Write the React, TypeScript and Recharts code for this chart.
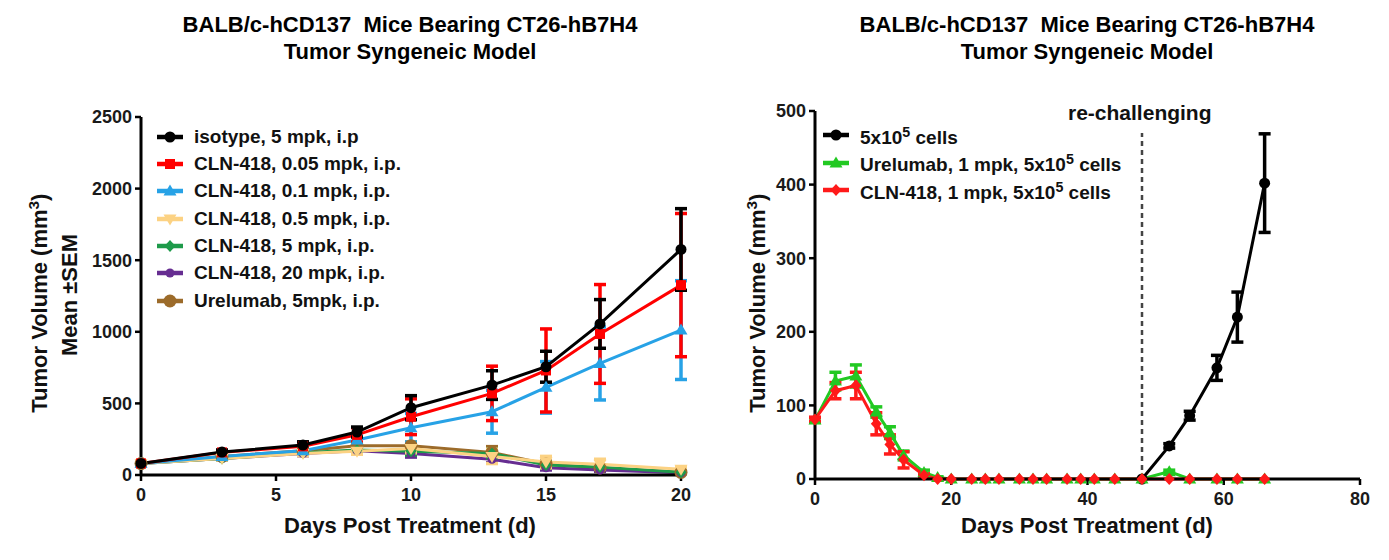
import React from "react";
import { LineChart, Line, XAxis, YAxis, ErrorBar, ReferenceLine } from "recharts";

// left panel: dose response
const leftDays = [0, 3, 6, 8, 10, 13, 15, 17, 20];
const isotype = [81, 160, 209, 300, 470, 628, 756, 1055, 1575];
const isotypeErr = [10, 15, 23, 35, 84, 100, 108, 170, 285];
const cln005 = [81, 158, 200, 280, 407, 570, 730, 985, 1326];
const cln005Err = [8, 12, 20, 50, 125, 190, 290, 345, 500];
const cln01 = [80, 130, 170, 244, 330, 442, 612, 779, 1012];
const cln01Err = [8, 12, 18, 30, 100, 150, 180, 255, 345];
const cln05 = [80, 115, 150, 165, 185, 130, 90, 75, 40];
const cln05Err = [8, 10, 15, 20, 30, 50, 40, 35, 15];
const cln5 = [80, 115, 155, 175, 165, 150, 70, 55, 20];
const cln5Err = [8, 10, 15, 18, 25, 30, 20, 15, 8];
const cln20 = [80, 115, 150, 170, 150, 110, 50, 35, 15];
const cln20Err = [8, 10, 15, 18, 25, 25, 15, 10, 6];
const urel5 = [80, 130, 170, 205, 205, 158, 77, 49, 19];
const urel5Err = [8, 12, 18, 20, 25, 40, 20, 12, 6];
const leftTicksX = [0, 5, 10, 15, 20];
const leftTicksY = [0, 500, 1000, 1500, 2000, 2500];

// right panel: re-challenge
const rightDays = [0, 3, 6, 9, 11, 13, 16, 18, 20, 23, 25, 27, 30, 32, 34, 37, 39, 41, 44, 48, 52, 55, 59, 62, 66];
const clnRight = [81, 120, 127, 75, 47, 26, 5, 0, 0, 0, 0, 0, 0, 0, 0, 0, 0, 0, 0, 0, 0, 0, 0, 0, 0];
const clnRightErr = [3, 11, 18, 15, 13, 11, 2, 0, 0, 0, 0, 0, 0, 0, 0, 0, 0, 0, 0, 0, 0, 0, 0, 0, 0];
const urelRight = [80, 133, 140, 91, 63, 32, 9, 2, 0, 0, 0, 0, 0, 0, 0, 0, 0, 0, 0, 0, 10, 0, 0, 0, 0];
const urelRightErr = [3, 12, 15, 7, 8, 6, 3, 1, 0, 0, 0, 0, 0, 0, 0, 0, 0, 0, 0, 0, 2, 0, 0, 0, 0];
const naiveDays = [48, 52, 55, 59, 62, 66];
const naive = [0, 45, 86, 151, 220, 402];
const naiveErr = [0, 3, 6, 17, 34, 67];
const rightTicksX = [0, 20, 40, 60, 80];
const rightTicksY = [0, 100, 200, 300, 400, 500];
const rechallengeDay = 48;

const FONT = "'Liberation Sans', Arial, sans-serif";

const leftSeries = [
  { key: "urel", name: "Urelumab, 5mpk, i.p.", color: "#9c6b2a", shape: "bigcircle", v: urel5, e: urel5Err },
  { key: "c20", name: "CLN-418, 20 mpk, i.p.", color: "#662d91", shape: "smallcircle", v: cln20, e: cln20Err },
  { key: "c5", name: "CLN-418, 5 mpk, i.p.", color: "#1e9a4a", shape: "diamond", v: cln5, e: cln5Err },
  { key: "c05", name: "CLN-418, 0.5 mpk, i.p.", color: "#fcd283", shape: "triDown", v: cln05, e: cln05Err },
  { key: "c01", name: "CLN-418, 0.1 mpk, i.p.", color: "#27a2e6", shape: "triUp", v: cln01, e: cln01Err },
  { key: "c005", name: "CLN-418, 0.05 mpk, i.p.", color: "#ff0000", shape: "square", v: cln005, e: cln005Err },
  { key: "iso", name: "isotype, 5 mpk, i.p", color: "#000000", shape: "circle", v: isotype, e: isotypeErr },
];

const leftData = leftDays.map((d, i) => {
  const row: Record<string, number> = { day: d };
  leftSeries.forEach((s) => {
    row[s.key] = s.v[i];
    row[s.key + "E"] = s.e[i];
  });
  return row;
});

const rightSeries = [
  { key: "naive", color: "#000000", shape: "circle", data: naiveDays.map((d, i) => ({ day: d, y: naive[i], err: naiveErr[i] })) },
  { key: "urel", color: "#22c922", shape: "triUp", data: rightDays.map((d, i) => ({ day: d, y: urelRight[i], err: urelRightErr[i] })) },
  { key: "cln", color: "#ff1a1a", shape: "diamond", data: rightDays.map((d, i) => ({ day: d, y: clnRight[i], err: clnRightErr[i] })) },
];

function marker(shape: string, cx: number, cy: number, color: string) {
  switch (shape) {
    case "square":
      return <rect x={cx - 5} y={cy - 5} width={10} height={10} fill={color} />;
    case "triUp":
      return <polygon points={`${cx},${cy - 6.5} ${cx - 6.5},${cy + 4.5} ${cx + 6.5},${cy + 4.5}`} fill={color} />;
    case "triDown":
      return <polygon points={`${cx},${cy + 6.5} ${cx - 6.5},${cy - 4.5} ${cx + 6.5},${cy - 4.5}`} fill={color} />;
    case "diamond":
      return <polygon points={`${cx},${cy - 6} ${cx + 5.5},${cy} ${cx},${cy + 6} ${cx - 5.5},${cy}`} fill={color} />;
    case "smallcircle":
      return <circle cx={cx} cy={cy} r={4.5} fill={color} />;
    case "bigcircle":
      return <circle cx={cx} cy={cy} r={6.5} fill={color} />;
    default:
      return <circle cx={cx} cy={cy} r={5.5} fill={color} />;
  }
}

const dotFor = (shape: string, color: string) => (p: any) => (
  <g key={`dot-${p.index}`}>{p.cx == null || p.cy == null ? null : marker(shape, p.cx, p.cy, color)}</g>
);

const axisProps = {
  axisLine: { stroke: "#000", strokeWidth: 3 },
  tickLine: { stroke: "#000", strokeWidth: 2.5 },
  tickSize: 6,
  tick: { fill: "#1a1a1a", fontSize: 18, fontWeight: 700, fontFamily: FONT },
};

function LegendIcon({ shape, color }: { shape: string; color: string }) {
  return (
    <svg width={28} height={16} style={{ marginRight: 10, flex: "none" }}>
      <line x1={1} y1={8} x2={27} y2={8} stroke={color} strokeWidth={4.5} />
      {marker(shape, 14, 8, color)}
    </svg>
  );
}

const textStyle: React.CSSProperties = { fontFamily: FONT, fontWeight: 700, color: "#111", position: "absolute", whiteSpace: "nowrap" };

export default function App() {
  const legendOrder = [...leftSeries].reverse();
  const rightLegend = [
    { s: rightSeries[0], label: <>5x10<sup style={{ fontSize: "0.75em" }}>5</sup> cells</> },
    { s: rightSeries[1], label: <>Urelumab, 1 mpk, 5x10<sup style={{ fontSize: "0.75em" }}>5</sup> cells</> },
    { s: rightSeries[2], label: <>CLN-418, 1 mpk, 5x10<sup style={{ fontSize: "0.75em" }}>5</sup> cells</> },
  ];
  return (
    <div style={{ position: "absolute", left: 0, top: 0, width: 1389, height: 560, background: "#fff", overflow: "hidden" }}>
      {/* titles */}
      {[410, 1087].map((cx) => (
        <div key={cx} style={{ ...textStyle, left: cx - 350, top: 11, width: 700, textAlign: "center", fontSize: 22, lineHeight: "27px", color: "#000" }}>
          BALB/c-hCD137&nbsp; Mice Bearing CT26-hB7H4
          <br />
          Tumor Syngeneic Model
        </div>
      ))}

      <div style={{ position: "absolute", left: 0, top: 0 }}>
        <LineChart width={700} height={560} data={leftData} margin={{ top: 117, right: 19, bottom: 55, left: 81 }}>
          <XAxis dataKey="day" type="number" domain={[0, 20]} ticks={leftTicksX} tickMargin={7} height={30} {...axisProps} />
          <YAxis type="number" domain={[0, 2500]} ticks={leftTicksY} width={60} tickMargin={3} {...axisProps} />
          {leftSeries.map((s) => (
            <Line key={s.key} dataKey={s.key} name={s.name} stroke={s.color} strokeWidth={3} isAnimationActive={false} dot={dotFor(s.shape, s.color)} activeDot={false}>
              <ErrorBar dataKey={s.key + "E"} width={6} strokeWidth={3.5} stroke={s.color} direction="y" isAnimationActive={false} />
            </Line>
          ))}
        </LineChart>
      </div>

      <div style={{ position: "absolute", left: 700, top: 0 }}>
        <LineChart width={689} height={560} margin={{ top: 111, right: 29, bottom: 51, left: 55 }}>
          <XAxis dataKey="day" type="number" domain={[0, 80]} ticks={rightTicksX} tickMargin={7} height={30} allowDuplicatedCategory={false} {...axisProps} />
          <YAxis type="number" domain={[0, 500]} ticks={rightTicksY} width={60} tickMargin={3} {...axisProps} />
          <ReferenceLine
            segment={[{ x: rechallengeDay, y: 0 }, { x: rechallengeDay, y: 470 }]}
            stroke="#444"
            strokeWidth={2.5}
            strokeDasharray="5 4"
          />
          {rightSeries.map((s) => (
            <Line key={s.key} data={s.data} dataKey="y" stroke={s.color} strokeWidth={3} isAnimationActive={false} dot={dotFor(s.shape, s.color)} activeDot={false}>
              <ErrorBar dataKey="err" width={6} strokeWidth={3.5} stroke={s.color} direction="y" isAnimationActive={false} />
            </Line>
          ))}
        </LineChart>
      </div>

      {/* left legend */}
      {legendOrder.map((s, i) => (
        <div key={s.key} style={{ ...textStyle, left: 156, top: 136.7 + i * 27.33 - 12, height: 24, fontSize: 19, lineHeight: "24px", display: "flex", alignItems: "center" }}>
          <LegendIcon shape={s.shape} color={s.color} />
          {s.name}
        </div>
      ))}

      {/* right legend */}
      {rightLegend.map((r, i) => (
        <div key={i} style={{ ...textStyle, left: 822, top: 135 + i * 27.5 - 12, height: 24, fontSize: 19, lineHeight: "24px", display: "flex", alignItems: "center" }}>
          <LegendIcon shape={r.s.shape} color={r.s.color} />
          <span>{r.label}</span>
        </div>
      ))}

      <div style={{ ...textStyle, left: 1068, top: 100, fontSize: 21, lineHeight: "26px" }}>re-challenging</div>

      {/* axis titles */}
      <div style={{ ...textStyle, left: 410 - 200, top: 512, width: 400, textAlign: "center", fontSize: 22, lineHeight: "28px" }}>Days Post Treatment (d)</div>
      <div style={{ ...textStyle, left: 1087 - 200, top: 512, width: 400, textAlign: "center", fontSize: 22, lineHeight: "28px" }}>Days Post Treatment (d)</div>

      <div style={{ ...textStyle, left: 37 - 150, top: 300 - 14, width: 300, textAlign: "center", fontSize: 22, lineHeight: "28px", transform: "rotate(-90deg)" }}>
        Tumor Volume (mm<sup style={{ fontSize: "0.7em" }}>3</sup>)
      </div>
      <div style={{ ...textStyle, left: 70 - 150, top: 295 - 14, width: 300, textAlign: "center", fontSize: 22, lineHeight: "28px", transform: "rotate(-90deg)" }}>
        Mean ±SEM
      </div>
      <div style={{ ...textStyle, left: 755 - 150, top: 300 - 14, width: 300, textAlign: "center", fontSize: 22, lineHeight: "28px", transform: "rotate(-90deg)" }}>
        Tumor Volume (mm<sup style={{ fontSize: "0.7em" }}>3</sup>)
      </div>
    </div>
  );
}
